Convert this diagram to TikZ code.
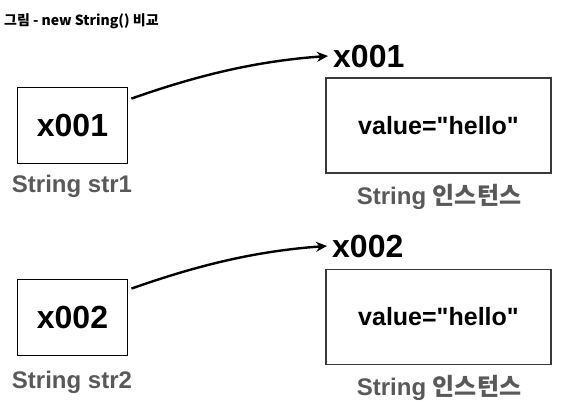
\documentclass[tikz,border=0pt]{standalone}
\usepackage{fontspec}
\setmainfont{Liberation Sans}
\newfontfamily\hel{Liberation Sans}
\newfontfamily\kr{Noto Sans CJK KR}
\usetikzlibrary{arrows.meta}
\definecolor{lblgray}{HTML}{595959}
\definecolor{boxgray}{HTML}{3A3A3A}
\tikzset{
  refbox/.style={draw=black, line width=1.8pt, minimum width=110pt, minimum height=76pt, inner sep=0pt, font=\fontsize{32}{34}\selectfont\bfseries},
  instbox/.style={draw=boxgray, line width=1.2pt, minimum width=225pt, minimum height=95pt, inner sep=0pt, font=\hel\fontsize{25}{27}\selectfont\bfseries},
  addr/.style={inner sep=0pt, anchor=base west, font=\fontsize{32}{34}\selectfont\bfseries},
  caplabel/.style={inner sep=0pt, anchor=base, text=lblgray, font=\fontsize{24}{26}\selectfont\bfseries},
  arr/.style={line width=2.4pt, -{Stealth[length=11pt,width=10pt]}},
}
\begin{document}
\begin{tikzpicture}[x=1pt,y=-1pt]
\useasboundingbox (0,0) rectangle (570,412);
\node[inner sep=0pt, anchor=base west, font=\kr\bfseries\fontsize{14}{16}\selectfont] (title) at (4,26) {그림 - new String() 비교};

% row 1
\node[refbox] (b1) at (72.5,125.5) {x001};
\node[caplabel] (s1) at (72,192) {String str1};
\node[instbox] (r1) at (438.5,125.5) {value="hello"};
\node[addr] (l1) at (333,67) {x001};
\node[caplabel] (i1) at (439,204) {String {\kr 인스턴스}};
\draw[arr] ([shift={(3,12)}]b1.north east) .. controls +(68,-24) and +(-70,5) .. ([xshift=-5]l1.west);

% row 2
\node[refbox] (b2) at (72.5,317.5) {x002};
\node[caplabel] (s2) at (72,388) {String str2};
\node[instbox] (r2) at (438.5,317) {value="hello"};
\node[addr] (l2) at (332,257) {x002};
\node[caplabel] (i2) at (439,395) {String {\kr 인스턴스}};
\draw[arr] ([shift={(3,10)}]b2.north east) .. controls +(68,-24) and +(-70,5) .. ([xshift=-5]l2.west);
\end{tikzpicture}
\end{document}
